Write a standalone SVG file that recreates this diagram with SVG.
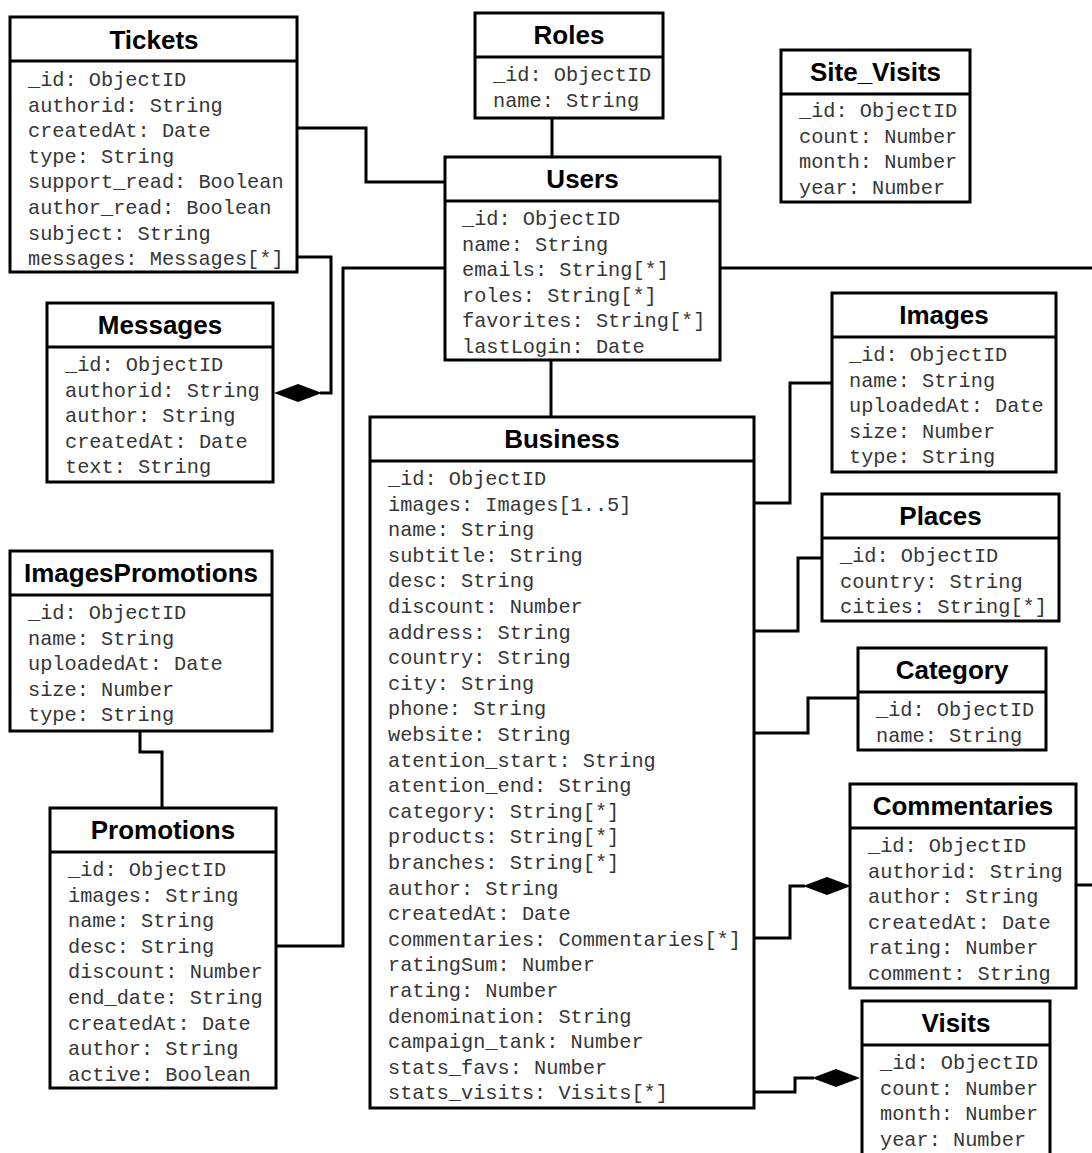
<svg xmlns="http://www.w3.org/2000/svg" width="1092" height="1153" viewBox="0 0 1092 1153">
  <style>
    .box { fill: #fff; stroke: #000; stroke-width: 3; }
    .sep { stroke: #000; stroke-width: 3; }
    .title { font-family: "Liberation Sans", Arial, sans-serif; font-weight: bold; font-size: 26px; fill: #000; text-anchor: middle; }
    .f { font-family: "Liberation Mono", "Courier New", monospace; font-size: 20.3px; fill: #363636; }
    .conn { fill: none; stroke: #000; stroke-width: 3; }
    .dia { fill: #000; }
  </style>
  <defs>
    <!-- filled composition diamond, 48 long, pointing right from x=0 -->
    <polygon id="diamond" class="dia" points="0,0 24,-9 48,0 24,9"/>
  </defs>
  <rect width="1092" height="1153" fill="#fff"/>

  <!-- connectors -->
  <g id="connectors">
    <path class="conn" d="M297,128 H366 V182 H445"/>
    <path class="conn" d="M552,118 V157"/>
    <path class="conn" d="M297,257 H331 V393 H320"/>
    <use href="#diamond" x="274" y="393"/>
    <path class="conn" d="M445,268 H343 V946 H276"/>
    <path class="conn" d="M720,268 H1092"/>
    <path class="conn" d="M551,360 V417"/>
    <path class="conn" d="M140,731 V752 H162 V808"/>
    <path class="conn" d="M754,503 H790 V383 H832"/>
    <path class="conn" d="M754,631 H798 V558 H822"/>
    <path class="conn" d="M754,733 H808 V698 H858"/>
    <path class="conn" d="M754,938 H790 V886 H805"/>
    <use href="#diamond" x="803" y="886"/>
    <path class="conn" d="M1076,885 H1092"/>
    <path class="conn" d="M754,1092 H795 V1078 H814"/>
    <use href="#diamond" x="812" y="1078"/>
  </g>

  <!-- Tickets -->
  <g id="tickets">
    <rect class="box" x="10" y="17" width="287" height="255"/>
    <line class="sep" x1="10" y1="61" x2="297" y2="61"/>
    <text class="title" x="154" y="49">Tickets</text>
    <text class="f">
      <tspan x="28" y="86">_id: ObjectID</tspan>
      <tspan x="28" y="111.6">authorid: String</tspan>
      <tspan x="28" y="137.2">createdAt: Date</tspan>
      <tspan x="28" y="162.8">type: String</tspan>
      <tspan x="28" y="188.4">support_read: Boolean</tspan>
      <tspan x="28" y="214">author_read: Boolean</tspan>
      <tspan x="28" y="239.6">subject: String</tspan>
      <tspan x="28" y="265.2">messages: Messages[*]</tspan>
    </text>
  </g>

  <!-- Roles -->
  <g id="roles">
    <rect class="box" x="475" y="13" width="188" height="105"/>
    <line class="sep" x1="475" y1="57" x2="663" y2="57"/>
    <text class="title" x="569" y="44">Roles</text>
    <text class="f">
      <tspan x="493" y="81">_id: ObjectID</tspan>
      <tspan x="493" y="106.6">name: String</tspan>
    </text>
  </g>

  <!-- Site_Visits -->
  <g id="site-visits">
    <rect class="box" x="781" y="50" width="189" height="152"/>
    <line class="sep" x1="781" y1="94" x2="970" y2="94"/>
    <text class="title" x="875.5" y="81">Site_Visits</text>
    <text class="f">
      <tspan x="799" y="117">_id: ObjectID</tspan>
      <tspan x="799" y="142.6">count: Number</tspan>
      <tspan x="799" y="168.2">month: Number</tspan>
      <tspan x="799" y="193.8">year: Number</tspan>
    </text>
  </g>

  <!-- Users -->
  <g id="users">
    <rect class="box" x="445" y="157" width="275" height="203"/>
    <line class="sep" x1="445" y1="201" x2="720" y2="201"/>
    <text class="title" x="582.5" y="188">Users</text>
    <text class="f">
      <tspan x="462" y="225">_id: ObjectID</tspan>
      <tspan x="462" y="250.6">name: String</tspan>
      <tspan x="462" y="276.2">emails: String[*]</tspan>
      <tspan x="462" y="301.8">roles: String[*]</tspan>
      <tspan x="462" y="327.4">favorites: String[*]</tspan>
      <tspan x="462" y="353">lastLogin: Date</tspan>
    </text>
  </g>

  <!-- Messages -->
  <g id="messages">
    <rect class="box" x="47" y="303" width="226" height="179"/>
    <line class="sep" x1="47" y1="347" x2="273" y2="347"/>
    <text class="title" x="160" y="334">Messages</text>
    <text class="f">
      <tspan x="65" y="371">_id: ObjectID</tspan>
      <tspan x="65" y="396.6">authorid: String</tspan>
      <tspan x="65" y="422.2">author: String</tspan>
      <tspan x="65" y="447.8">createdAt: Date</tspan>
      <tspan x="65" y="473.4">text: String</tspan>
    </text>
  </g>

  <!-- ImagesPromotions -->
  <g id="images-promotions">
    <rect class="box" x="10" y="551" width="262" height="180"/>
    <line class="sep" x1="10" y1="595" x2="272" y2="595"/>
    <text class="title" x="141" y="582">ImagesPromotions</text>
    <text class="f">
      <tspan x="28" y="619">_id: ObjectID</tspan>
      <tspan x="28" y="644.6">name: String</tspan>
      <tspan x="28" y="670.2">uploadedAt: Date</tspan>
      <tspan x="28" y="695.8">size: Number</tspan>
      <tspan x="28" y="721.4">type: String</tspan>
    </text>
  </g>

  <!-- Promotions -->
  <g id="promotions">
    <rect class="box" x="50" y="808" width="226" height="280"/>
    <line class="sep" x1="50" y1="852" x2="276" y2="852"/>
    <text class="title" x="163" y="839">Promotions</text>
    <text class="f">
      <tspan x="68" y="876">_id: ObjectID</tspan>
      <tspan x="68" y="901.6">images: String</tspan>
      <tspan x="68" y="927.2">name: String</tspan>
      <tspan x="68" y="952.8">desc: String</tspan>
      <tspan x="68" y="978.4">discount: Number</tspan>
      <tspan x="68" y="1004">end_date: String</tspan>
      <tspan x="68" y="1029.6">createdAt: Date</tspan>
      <tspan x="68" y="1055.2">author: String</tspan>
      <tspan x="68" y="1080.8">active: Boolean</tspan>
    </text>
  </g>

  <!-- Business -->
  <g id="business">
    <rect class="box" x="370" y="417" width="384" height="691"/>
    <line class="sep" x1="370" y1="461" x2="754" y2="461"/>
    <text class="title" x="562" y="448">Business</text>
    <text class="f">
      <tspan x="388" y="485">_id: ObjectID</tspan>
      <tspan x="388" y="510.6">images: Images[1..5]</tspan>
      <tspan x="388" y="536.2">name: String</tspan>
      <tspan x="388" y="561.8">subtitle: String</tspan>
      <tspan x="388" y="587.4">desc: String</tspan>
      <tspan x="388" y="613">discount: Number</tspan>
      <tspan x="388" y="638.6">address: String</tspan>
      <tspan x="388" y="664.2">country: String</tspan>
      <tspan x="388" y="689.8">city: String</tspan>
      <tspan x="388" y="715.4">phone: String</tspan>
      <tspan x="388" y="741">website: String</tspan>
      <tspan x="388" y="766.6">atention_start: String</tspan>
      <tspan x="388" y="792.2">atention_end: String</tspan>
      <tspan x="388" y="817.8">category: String[*]</tspan>
      <tspan x="388" y="843.4">products: String[*]</tspan>
      <tspan x="388" y="869">branches: String[*]</tspan>
      <tspan x="388" y="894.6">author: String</tspan>
      <tspan x="388" y="920.2">createdAt: Date</tspan>
      <tspan x="388" y="945.8">commentaries: Commentaries[*]</tspan>
      <tspan x="388" y="971.4">ratingSum: Number</tspan>
      <tspan x="388" y="997">rating: Number</tspan>
      <tspan x="388" y="1022.6">denomination: String</tspan>
      <tspan x="388" y="1048.2">campaign_tank: Number</tspan>
      <tspan x="388" y="1073.8">stats_favs: Number</tspan>
      <tspan x="388" y="1099.4">stats_visits: Visits[*]</tspan>
    </text>
  </g>

  <!-- Images -->
  <g id="images">
    <rect class="box" x="832" y="293" width="224" height="179"/>
    <line class="sep" x1="832" y1="337" x2="1056" y2="337"/>
    <text class="title" x="944" y="324">Images</text>
    <text class="f">
      <tspan x="849" y="361">_id: ObjectID</tspan>
      <tspan x="849" y="386.6">name: String</tspan>
      <tspan x="849" y="412.2">uploadedAt: Date</tspan>
      <tspan x="849" y="437.8">size: Number</tspan>
      <tspan x="849" y="463.4">type: String</tspan>
    </text>
  </g>

  <!-- Places -->
  <g id="places">
    <rect class="box" x="822" y="494" width="237" height="127"/>
    <line class="sep" x1="822" y1="538" x2="1059" y2="538"/>
    <text class="title" x="940.5" y="525">Places</text>
    <text class="f">
      <tspan x="840" y="562">_id: ObjectID</tspan>
      <tspan x="840" y="587.6">country: String</tspan>
      <tspan x="840" y="613.2">cities: String[*]</tspan>
    </text>
  </g>

  <!-- Category -->
  <g id="category">
    <rect class="box" x="858" y="648" width="188" height="102"/>
    <line class="sep" x1="858" y1="692" x2="1046" y2="692"/>
    <text class="title" x="952" y="679">Category</text>
    <text class="f">
      <tspan x="876" y="716">_id: ObjectID</tspan>
      <tspan x="876" y="741.6">name: String</tspan>
    </text>
  </g>

  <!-- Commentaries -->
  <g id="commentaries">
    <rect class="box" x="850" y="784" width="226" height="204"/>
    <line class="sep" x1="850" y1="828" x2="1076" y2="828"/>
    <text class="title" x="963" y="815">Commentaries</text>
    <text class="f">
      <tspan x="868" y="852">_id: ObjectID</tspan>
      <tspan x="868" y="877.6">authorid: String</tspan>
      <tspan x="868" y="903.2">author: String</tspan>
      <tspan x="868" y="928.8">createdAt: Date</tspan>
      <tspan x="868" y="954.4">rating: Number</tspan>
      <tspan x="868" y="980">comment: String</tspan>
    </text>
  </g>

  <!-- Visits (runs past the lower edge) -->
  <g id="visits">
    <rect class="box" x="862" y="1001" width="188" height="170"/>
    <line class="sep" x1="862" y1="1045" x2="1050" y2="1045"/>
    <text class="title" x="956" y="1032">Visits</text>
    <text class="f">
      <tspan x="880" y="1069">_id: ObjectID</tspan>
      <tspan x="880" y="1094.6">count: Number</tspan>
      <tspan x="880" y="1120.2">month: Number</tspan>
      <tspan x="880" y="1145.8">year: Number</tspan>
    </text>
  </g>
</svg>
